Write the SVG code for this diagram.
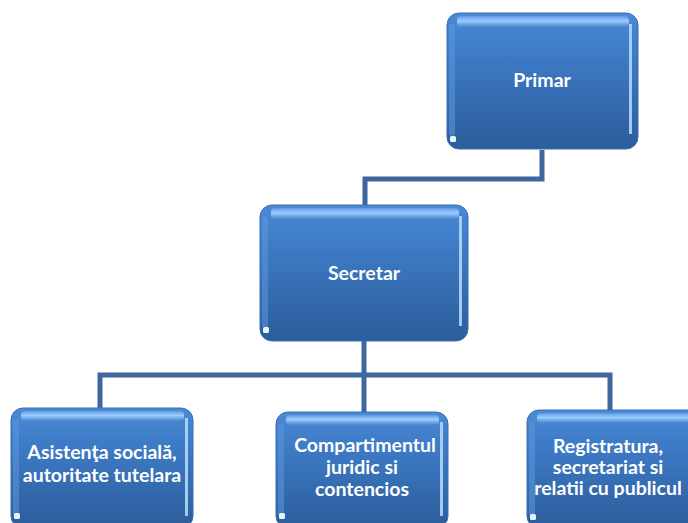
<svg xmlns="http://www.w3.org/2000/svg" width="688" height="523" viewBox="0 0 688 523">
  <style>
    .body { fill: url(#boxFill); stroke: #3a6fb3; stroke-width: 1; }
    .bevel { fill: url(#bevelFill); }
    .edge { fill: #b9dcff; opacity: 0.85; }
    .lside { fill: #5b97dc; opacity: 0.55; }
    .gloss { fill: #e6f4ff; }
    .label { font-family: Lato, "Open Sans", "Liberation Sans", sans-serif; font-weight: bold; font-size: 19.5px; fill: #ffffff; text-anchor: middle; }
    .wire { fill: none; stroke: #3e679d; stroke-width: 5; stroke-linejoin: miter; }
  </style>
  <defs>
    <linearGradient id="boxFill" x1="0" y1="0" x2="0" y2="1">
      <stop offset="0" stop-color="#4b8ad5"/>
      <stop offset="0.25" stop-color="#3f7dc9"/>
      <stop offset="1" stop-color="#2c5d9b"/>
    </linearGradient>
    <linearGradient id="bevelFill" x1="0" y1="0" x2="0" y2="1">
      <stop offset="0" stop-color="#5d9be2"/>
      <stop offset="0.45" stop-color="#9ccbff"/>
      <stop offset="1" stop-color="#4786d2"/>
    </linearGradient>
  </defs>

  <g id="connectors">
    <polyline class="wire" points="542,150 542,179 365,179 365,206"/>
    <polyline class="wire" points="364,341 364,412"/>
    <polyline class="wire" points="100,408 100,375 610,375 610,410"/>
  </g>

  <g id="primar">
    <rect class="body" x="447" y="13" width="191" height="136" rx="12"/>
    <rect class="bevel" x="457" y="16" width="172" height="11" rx="4"/>
    <rect class="lside" x="449" y="24" width="6" height="112" rx="3"/>
    <rect class="edge" x="629" y="24" width="3" height="110"/>
    <rect class="gloss" x="450" y="136" width="6" height="6" rx="1.5"/>
    <text class="label" x="542" y="87">Primar</text>
  </g>

  <g id="secretar">
    <rect class="body" x="260" y="205" width="208" height="136" rx="12"/>
    <rect class="bevel" x="271" y="208" width="188" height="11" rx="4"/>
    <rect class="lside" x="262" y="216" width="6" height="112" rx="3"/>
    <rect class="edge" x="459" y="216" width="3" height="110"/>
    <rect class="gloss" x="263" y="327" width="6" height="6" rx="1.5"/>
    <text class="label" x="364" y="280">Secretar</text>
  </g>

  <g id="asistenta">
    <rect class="body" x="11" y="408" width="182" height="120" rx="12"/>
    <rect class="bevel" x="21" y="411" width="163" height="10" rx="4"/>
    <rect class="lside" x="13" y="419" width="6" height="98" rx="3"/>
    <rect class="edge" x="185" y="418" width="3" height="98"/>
    <rect class="gloss" x="14" y="513" width="6" height="6" rx="1.5"/>
    <text class="label" x="102" y="459">Asistenţa socială,</text>
    <text class="label" x="102" y="482">autoritate tutelara</text>
  </g>

  <g id="juridic">
    <rect class="body" x="276" y="412" width="172" height="116" rx="12"/>
    <rect class="bevel" x="286" y="415" width="153" height="10" rx="4"/>
    <rect class="lside" x="278" y="423" width="6" height="94" rx="3"/>
    <rect class="edge" x="440" y="422" width="3" height="94"/>
    <rect class="gloss" x="279" y="513" width="6" height="6" rx="1.5"/>
    <text class="label" x="365" y="452">Compartimentul</text>
    <text class="label" x="362" y="474">juridic si</text>
    <text class="label" x="362" y="496">contencios</text>
  </g>

  <g id="registratura">
    <rect class="body" x="527" y="410" width="175" height="118" rx="12"/>
    <rect class="bevel" x="537" y="413" width="160" height="10" rx="4"/>
    <rect class="lside" x="529" y="421" width="6" height="96" rx="3"/>
    <rect class="gloss" x="530" y="514" width="6" height="6" rx="1.5"/>
    <text class="label" x="608" y="453">Registratura,</text>
    <text class="label" x="608" y="474">secretariat si</text>
    <text class="label" x="608" y="495">relatii cu publicul</text>
  </g>
</svg>
